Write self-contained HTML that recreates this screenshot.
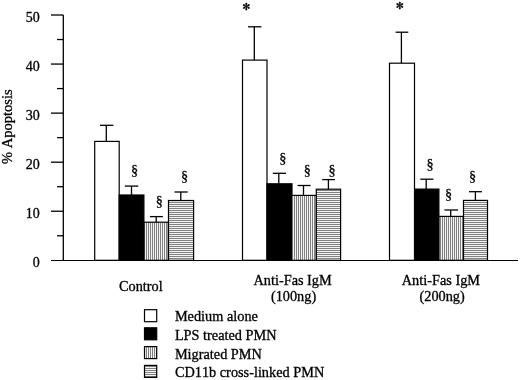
<!DOCTYPE html><html><head><meta charset="utf-8"><style>html,body{margin:0;padding:0;background:#fff;width:520px;height:380px;overflow:hidden}svg{display:block}text{font-family:"Liberation Serif",serif;fill:#000;stroke:#000;stroke-width:0.3px;font-kerning:none}</style></head><body>
<svg width="520" height="380" viewBox="0 0 520 380">
<defs>
<pattern id="pv" patternUnits="userSpaceOnUse" width="2" height="4"><rect width="2" height="4" fill="#f4f4f4"/><rect x="0" width="1" height="4" fill="#808080"/></pattern>
<pattern id="ph" patternUnits="userSpaceOnUse" width="4" height="2"><rect width="4" height="2" fill="#f4f4f4"/><rect y="0" width="4" height="1" fill="#808080"/></pattern>
</defs>
<rect width="520" height="380" fill="#fff"/>
<line x1="106.3" y1="125.3" x2="106.3" y2="141.4" stroke="#000" stroke-width="1.3"/>
<line x1="100.0" y1="125.3" x2="113.4" y2="125.3" stroke="#000" stroke-width="1.3"/>
<rect x="94.7" y="141.4" width="24.5" height="118.9" fill="#fff" stroke="#000" stroke-width="1.2"/>
<line x1="131.5" y1="186.1" x2="131.5" y2="195.0" stroke="#000" stroke-width="1.3"/>
<line x1="124.8" y1="186.1" x2="138.3" y2="186.1" stroke="#000" stroke-width="1.3"/>
<rect x="119.2" y="195.0" width="24.7" height="65.3" fill="#000" stroke="#000" stroke-width="1.2"/>
<line x1="156.2" y1="216.6" x2="156.2" y2="222.2" stroke="#000" stroke-width="1.3"/>
<line x1="149.9" y1="216.6" x2="162.9" y2="216.6" stroke="#000" stroke-width="1.3"/>
<rect x="144.0" y="222.2" width="24.3" height="38.1" fill="url(#pv)" stroke="#000" stroke-width="1.2"/>
<line x1="180.8" y1="192.0" x2="180.8" y2="200.5" stroke="#000" stroke-width="1.3"/>
<line x1="174.5" y1="192.0" x2="187.7" y2="192.0" stroke="#000" stroke-width="1.3"/>
<rect x="168.5" y="200.5" width="25.1" height="59.8" fill="url(#ph)" stroke="#000" stroke-width="1.2"/>
<line x1="254.3" y1="26.8" x2="254.3" y2="60.1" stroke="#000" stroke-width="1.3"/>
<line x1="248.0" y1="26.8" x2="261.4" y2="26.8" stroke="#000" stroke-width="1.3"/>
<rect x="242.5" y="60.1" width="24.5" height="200.2" fill="#fff" stroke="#000" stroke-width="1.2"/>
<line x1="278.8" y1="173.3" x2="278.8" y2="183.8" stroke="#000" stroke-width="1.3"/>
<line x1="272.8" y1="173.3" x2="286.1" y2="173.3" stroke="#000" stroke-width="1.3"/>
<rect x="267.0" y="183.8" width="25.0" height="76.5" fill="#000" stroke="#000" stroke-width="1.2"/>
<line x1="303.5" y1="185.5" x2="303.5" y2="195.4" stroke="#000" stroke-width="1.3"/>
<line x1="297.6" y1="185.5" x2="310.6" y2="185.5" stroke="#000" stroke-width="1.3"/>
<rect x="291.5" y="195.4" width="24.8" height="64.9" fill="url(#pv)" stroke="#000" stroke-width="1.2"/>
<line x1="328.4" y1="179.6" x2="328.4" y2="189.2" stroke="#000" stroke-width="1.3"/>
<line x1="322.2" y1="179.6" x2="335.0" y2="179.6" stroke="#000" stroke-width="1.3"/>
<rect x="316.3" y="189.2" width="24.3" height="71.1" fill="url(#ph)" stroke="#000" stroke-width="1.2"/>
<line x1="401.4" y1="32.2" x2="401.4" y2="63.2" stroke="#000" stroke-width="1.3"/>
<line x1="395.6" y1="32.2" x2="408.3" y2="32.2" stroke="#000" stroke-width="1.3"/>
<rect x="389.5" y="63.2" width="25.0" height="197.1" fill="#fff" stroke="#000" stroke-width="1.2"/>
<line x1="426.2" y1="179.2" x2="426.2" y2="189.1" stroke="#000" stroke-width="1.3"/>
<line x1="420.3" y1="179.2" x2="433.4" y2="179.2" stroke="#000" stroke-width="1.3"/>
<rect x="414.6" y="189.1" width="24.3" height="71.2" fill="#000" stroke="#000" stroke-width="1.2"/>
<line x1="450.7" y1="210.0" x2="450.7" y2="216.4" stroke="#000" stroke-width="1.3"/>
<line x1="444.4" y1="210.0" x2="458.1" y2="210.0" stroke="#000" stroke-width="1.3"/>
<rect x="439.0" y="216.4" width="24.6" height="43.9" fill="url(#pv)" stroke="#000" stroke-width="1.2"/>
<line x1="475.4" y1="191.7" x2="475.4" y2="200.4" stroke="#000" stroke-width="1.3"/>
<line x1="469.0" y1="191.7" x2="481.9" y2="191.7" stroke="#000" stroke-width="1.3"/>
<rect x="463.5" y="200.4" width="24.0" height="59.9" fill="url(#ph)" stroke="#000" stroke-width="1.2"/>
<line x1="63.3" y1="14.999999999999972" x2="63.3" y2="260.3" stroke="#000" stroke-width="1.3"/>
<line x1="51" y1="260.5" x2="518" y2="260.5" stroke="#000" stroke-width="1.15"/>
<text x="39.7" y="267.20" font-size="14" text-anchor="end">0</text>
<line x1="57" y1="235.77" x2="63.3" y2="235.77" stroke="#000" stroke-width="1.3"/>
<line x1="51" y1="211.24" x2="63.3" y2="211.24" stroke="#000" stroke-width="1.3"/>
<text x="39.7" y="218.14" font-size="14" text-anchor="end">10</text>
<line x1="57" y1="186.71" x2="63.3" y2="186.71" stroke="#000" stroke-width="1.3"/>
<line x1="51" y1="162.18" x2="63.3" y2="162.18" stroke="#000" stroke-width="1.3"/>
<text x="39.7" y="169.08" font-size="14" text-anchor="end">20</text>
<line x1="57" y1="137.65" x2="63.3" y2="137.65" stroke="#000" stroke-width="1.3"/>
<line x1="51" y1="113.12" x2="63.3" y2="113.12" stroke="#000" stroke-width="1.3"/>
<text x="39.7" y="120.02" font-size="14" text-anchor="end">30</text>
<line x1="57" y1="88.59" x2="63.3" y2="88.59" stroke="#000" stroke-width="1.3"/>
<line x1="51" y1="64.06" x2="63.3" y2="64.06" stroke="#000" stroke-width="1.3"/>
<text x="39.7" y="70.96" font-size="14" text-anchor="end">40</text>
<line x1="57" y1="39.53" x2="63.3" y2="39.53" stroke="#000" stroke-width="1.3"/>
<line x1="51" y1="15.00" x2="63.3" y2="15.00" stroke="#000" stroke-width="1.3"/>
<text x="39.7" y="21.90" font-size="14" text-anchor="end">50</text>
<text transform="translate(12.3,163.9) rotate(-90)" font-size="14.5">% Apoptosis</text>
<text x="119.0" y="290.8" font-size="14.3">Control</text>
<text x="253.5" y="284.7" font-size="14.3">Anti-Fas IgM</text>
<text x="270.9" y="300.8" font-size="14.3">(100ng)</text>
<text x="401.8" y="284.7" font-size="14.3">Anti-Fas IgM</text>
<text x="419.5" y="300.8" font-size="14.3">(200ng)</text>
<text x="131.0" y="175.1" font-size="14.3">§</text>
<text x="155.8" y="205.8" font-size="14.3">§</text>
<text x="181.0" y="180.9" font-size="14.3">§</text>
<text x="279.2" y="162.9" font-size="14.3">§</text>
<text x="303.8" y="175.1" font-size="14.3">§</text>
<text x="328.4" y="175.1" font-size="14.3">§</text>
<text x="426.5" y="168.8" font-size="14.3">§</text>
<text x="445.0" y="198.8" font-size="14.3">§</text>
<text x="468.9" y="181.1" font-size="14.3">§</text>
<text x="242.32" y="9.74" font-size="9.7" style="font-family:'DejaVu Sans',sans-serif;stroke-width:0.35px">✻</text>
<text x="395.72" y="9.09" font-size="9.7" style="font-family:'DejaVu Sans',sans-serif;stroke-width:0.35px">✻</text>
<rect x="144.5" y="309.7" width="12.2" height="12" fill="#fff" stroke="#000" stroke-width="1.2"/>
<text x="174.9" y="321.3" font-size="14.3">Medium alone</text>
<rect x="144.5" y="327.8" width="12.2" height="12" fill="#000" stroke="#000" stroke-width="1.2"/>
<text x="174.9" y="339.5" font-size="14.3">LPS treated PMN</text>
<rect x="144.5" y="346.6" width="12.2" height="12" fill="url(#pv)" stroke="#000" stroke-width="1.2"/>
<text x="174.9" y="358.7" font-size="14.3">Migrated PMN</text>
<rect x="144.5" y="365.4" width="12.2" height="12" fill="url(#ph)" stroke="#000" stroke-width="1.2"/>
<text x="174.9" y="376.8" font-size="14.3">CD11b cross-linked PMN</text>
</svg></body></html>
